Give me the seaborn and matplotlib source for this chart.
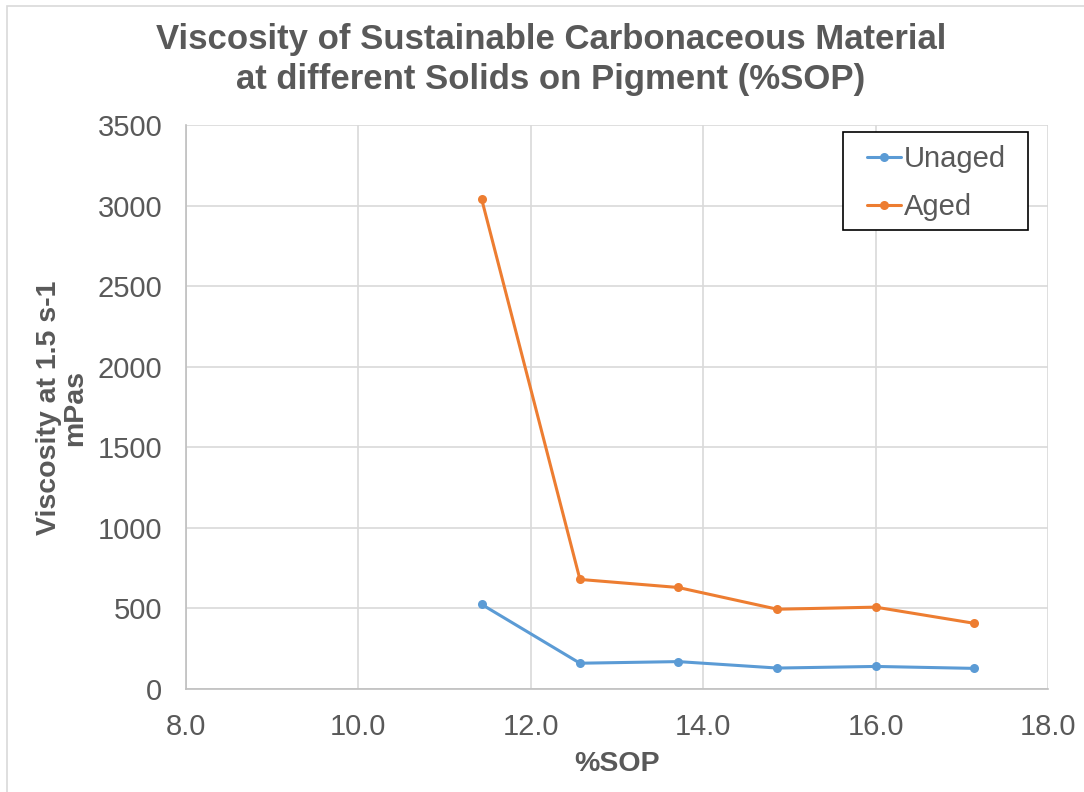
import matplotlib
matplotlib.use("Agg")
import matplotlib.pyplot as plt
import seaborn as sns
import pandas as pd
from matplotlib.patches import Rectangle

sop = [11.43, 12.57, 13.71, 14.86, 16.0, 17.14]
unaged = [525, 160, 170, 130, 140, 128]
aged = [3040, 680, 630, 495, 508, 408]
series_names = ["Unaged", "Aged"]
x_ticks = [8.0, 10.0, 12.0, 14.0, 16.0, 18.0]
y_ticks = [0, 500, 1000, 1500, 2000, 2500, 3000, 3500]

df = pd.DataFrame({
    "sop": sop + sop,
    "visc": unaged + aged,
    "series": [series_names[0]] * len(sop) + [series_names[1]] * len(sop),
})

sns.set_theme(style="white")
plt.rcParams["font.family"] = ["Liberation Sans", "DejaVu Sans"]

grey = "#595959"
fig = plt.figure(figsize=(10.84, 7.92), dpi=100)
fig.patch.set_facecolor("white")
ax = fig.add_axes([186/1084, 1-689/792, (1048-186)/1084, (689-125)/792])

sns.lineplot(data=df, x="sop", y="visc", hue="series",
             palette={"Unaged": "#5B9BD5", "Aged": "#ED7D31"},
             marker="o", markersize=6.5, markeredgewidth=0, linewidth=2.2,
             ax=ax, legend=True)

ax.set_xlim(8, 18)
ax.set_ylim(0, 3500)
ax.set_xticks(x_ticks)
ax.set_xticklabels([f"{v:.1f}" for v in x_ticks])
ax.set_yticks(y_ticks)
ax.set_yticklabels([str(v) for v in y_ticks])
ax.tick_params(axis="both", labelsize=21, colors=grey, length=0)
ax.tick_params(axis="y", pad=17)
ax.tick_params(axis="x", pad=17)
ax.grid(True, color="#d9d9d9", linewidth=1.2)
ax.set_axisbelow(True)
for s in ["top", "right"]:
    ax.spines[s].set_visible(False)
for s in ["left", "bottom"]:
    ax.spines[s].set_color("#bfbfbf")
    ax.spines[s].set_linewidth(1.2)
ax.set_xlabel("")
ax.set_ylabel("")

leg = ax.legend(loc="center left", bbox_to_anchor=(867/1084, 1-183/792),
                bbox_transform=fig.transFigure, borderaxespad=0,
                fontsize=21, frameon=False, handlelength=1.15,
                handletextpad=0.12, borderpad=0, labelspacing=0.68)
leg.set_zorder(6)
for t in leg.get_texts():
    t.set_color(grey)
ax.add_patch(Rectangle((843/1084, 1-230/792), (1028-843)/1084, 98/792,
                       transform=fig.transFigure, facecolor="white",
                       edgecolor="black", linewidth=1.2, zorder=5.5,
                       clip_on=False))

fig.text(551/1084, 1-40/792, "Viscosity of Sustainable Carbonaceous Material",
         ha="center", va="center", fontsize=25, fontweight="bold", color=grey)
fig.text(551/1084, 1-80/792, "at different Solids on Pigment (%SOP)",
         ha="center", va="center", fontsize=25, fontweight="bold", color=grey)
fig.text(62/1084, 1-408/792, "Viscosity at 1.5 s-1\nmPas", rotation=90,
         ha="center", va="center", multialignment="center",
         fontsize=20.5, fontweight="bold", color=grey, linespacing=1.0)
fig.text(617/1084, 1-764/792, "%SOP", ha="center", va="center",
         fontsize=20.5, fontweight="bold", color=grey)

fig.patches.append(Rectangle((7/1084, -0.01), 1.1, 1-6/792 + 0.01,
                             transform=fig.transFigure, fill=False,
                             edgecolor="#d9d9d9", linewidth=1.2))

fig.savefig("out.png", dpi=100)
